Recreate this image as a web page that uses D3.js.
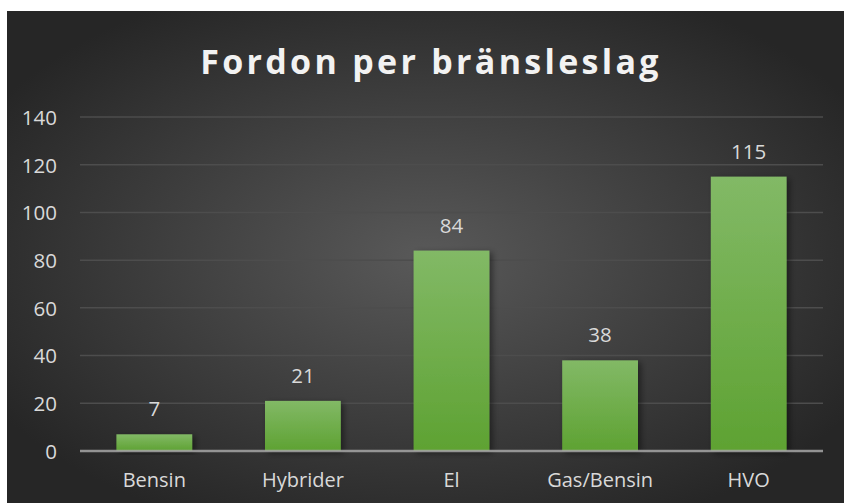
<!DOCTYPE html>
<html>
<head>
<meta charset="utf-8">
<script src="https://cdn.jsdelivr.net/npm/d3@7"></script>
<style>
  html, body { margin: 0; padding: 0; background: #fff; }
  svg { display: block; }
  text { font-family: "Open Sans", "Noto Sans", sans-serif; }
</style>
</head>
<body>
<svg id="chart"></svg>
<script>
const categories = ['Bensin', 'Hybrider', 'El', 'Gas/Bensin', 'HVO'];
const values = [7, 21, 84, 38, 115];
const yTicks = [0, 20, 40, 60, 80, 100, 120, 140];
const title = 'Fordon per bränsleslag';

const width = 844;
const height = 503;
const margin = {top: 117, right: 21, bottom: 52, left: 80};

const svg = d3.select('#chart').attr('width', width).attr('height', height);
const defs = svg.append('defs');

// dark background, lighter in the middle
const bg = defs.append('radialGradient').attr('id', 'bg')
  .attr('cx', '50%').attr('cy', '50%').attr('r', '60%');
bg.append('stop').attr('offset', '0%').attr('stop-color', '#595959');
bg.append('stop').attr('offset', '100%').attr('stop-color', '#262626');

const barGrad = defs.append('linearGradient').attr('id', 'barGrad')
  .attr('x1', 0).attr('y1', 0).attr('x2', 0).attr('y2', 1);
barGrad.append('stop').attr('offset', '0%').attr('stop-color', '#82b966');
barGrad.append('stop').attr('offset', '100%').attr('stop-color', '#5ea232');

const shadow = defs.append('filter').attr('id', 'shadow')
  .attr('x', '-20%').attr('y', '-20%').attr('width', '150%').attr('height', '140%');
shadow.append('feDropShadow').attr('dx', 3).attr('dy', 2).attr('stdDeviation', 3)
  .attr('flood-color', '#000').attr('flood-opacity', 0.45);

svg.append('rect').attr('x', 7).attr('y', 11).attr('width', width - 7).attr('height', height - 11)
  .attr('fill', 'url(#bg)');

const xScale = d3.scaleBand().domain(categories)
  .range([margin.left, width - margin.right]).paddingInner(0.49).paddingOuter(0.245);
const yScale = d3.scaleLinear().domain([0, 140])
  .range([height - margin.bottom, margin.top]);

// gridlines
svg.append('g').selectAll('line').data(yTicks.filter(d => d > 0)).enter().append('line')
  .attr('x1', margin.left).attr('x2', width - margin.right)
  .attr('y1', d => yScale(d)).attr('y2', d => yScale(d))
  .attr('stroke', '#4d4d4d').attr('stroke-width', 1.5);

// y axis labels
const yAxis = d3.axisLeft(yScale).tickValues(yTicks).tickSize(0).tickPadding(0);
const gy = svg.append('g').attr('transform', `translate(${margin.left - 23},0)`).call(yAxis);
gy.select('.domain').remove();
gy.selectAll('text').attr('fill', '#d9d9d9').style('font-size', '20.5px')
  .style('font-family', '"Open Sans", sans-serif').attr('dy', '0.36em');

// bars
svg.append('g').selectAll('rect').data(values).enter().append('rect')
  .attr('x', (d, i) => xScale(categories[i]))
  .attr('width', xScale.bandwidth())
  .attr('y', d => yScale(d))
  .attr('height', d => yScale(0) - yScale(d))
  .attr('fill', 'url(#barGrad)')
  .attr('filter', 'url(#shadow)');

// baseline
svg.append('line')
  .attr('x1', margin.left).attr('x2', width - margin.right)
  .attr('y1', yScale(0)).attr('y2', yScale(0))
  .attr('stroke', '#a6a6a6').attr('stroke-width', 2.5).attr('opacity', 0.85);

// value labels
svg.append('g').selectAll('text').data(values).enter().append('text')
  .attr('x', (d, i) => xScale(categories[i]) + xScale.bandwidth() / 2)
  .attr('y', d => yScale(d) - 18)
  .attr('text-anchor', 'middle')
  .attr('fill', '#d9d9d9').style('font-size', '20.5px')
  .text(d => d);

// x axis labels
const xAxis = d3.axisBottom(xScale).tickSize(0).tickPadding(0);
const gx = svg.append('g').attr('transform', `translate(0,${yScale(0) + 22})`).call(xAxis);
gx.select('.domain').remove();
gx.selectAll('text').attr('fill', '#d9d9d9').style('font-size', '20px')
  .style('font-family', '"Open Sans", sans-serif').attr('dy', '0.71em');

// title
svg.append('text')
  .attr('x', 431).attr('y', 74)
  .attr('text-anchor', 'middle')
  .attr('fill', '#f2f2f2')
  .style('font-size', '34px').style('font-weight', 'bold').style('letter-spacing', '3.3px')
  .text(title);
</script>
</body>
</html>
